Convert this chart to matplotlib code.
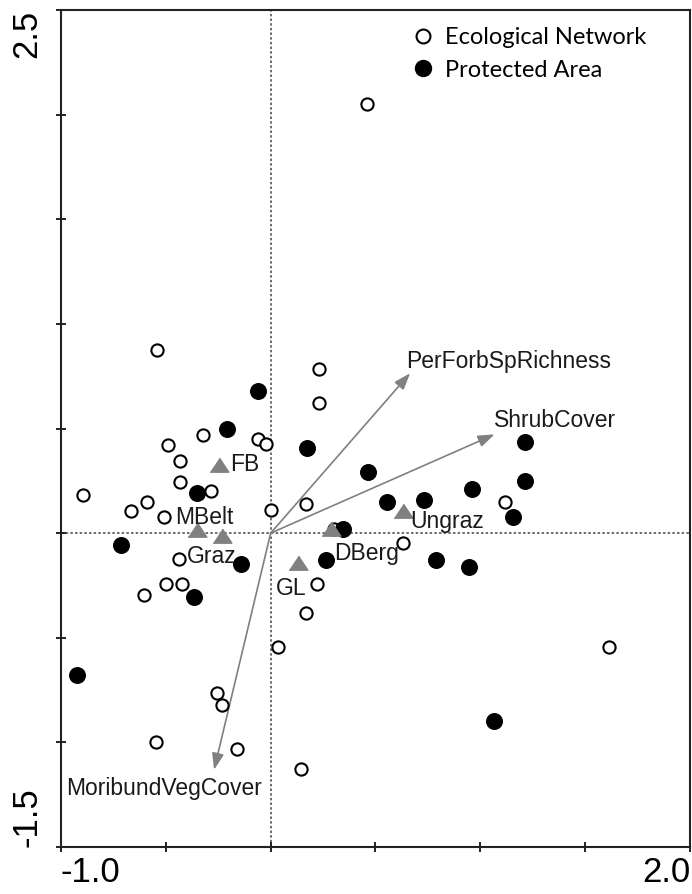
import numpy as np
import matplotlib
matplotlib.use("Agg")
import matplotlib.pyplot as plt
from matplotlib.lines import Line2D

# Site scores - Ecological Network (open circles)
eco_x = [0.459, -0.541, 0.231, 0.231, -0.488, -0.325, -0.059, -0.022, -0.432,
         -0.432, -0.285, -0.894, -0.591, -0.668, -0.507, 0.000, 0.167, 0.302,
         0.629, 1.118, -0.439, -0.499, -0.424, -0.603, 0.223, 0.167, 0.036,
         1.612, -0.255, -0.234, -0.548, -0.162, 0.145]
eco_y = [2.051, 0.876, 0.784, 0.624, 0.422, 0.468, 0.451, 0.425, 0.345,
         0.244, 0.202, 0.182, 0.150, 0.108, 0.075, 0.109, 0.139, 0.021,
         -0.049, 0.150, -0.124, -0.241, -0.244, -0.298, -0.243, -0.382, -0.542,
         -0.542, -0.764, -0.820, -0.999, -1.032, -1.128]

# Site scores - Protected Area (filled circles)
pa_x = [-0.062, -0.210, 0.172, -0.353, -0.714, -0.140, -0.366, 0.466, 0.556,
        0.729, 0.962, 1.213, 1.213, 1.154, 0.346, 0.262, 0.787, 0.944,
        1.067, -0.922]
pa_y = [0.677, 0.498, 0.406, 0.194, -0.059, -0.148, -0.303, 0.290, 0.150,
        0.156, 0.212, 0.434, 0.251, 0.076, 0.021, -0.128, -0.130, -0.163,
        -0.897, -0.677]

# Nominal variables (class centroids)
class_names = ["FB", "MBelt", "Graz", "Ungraz", "DBerg", "GL"]
class_x = [-0.246, -0.353, -0.234, 0.633, 0.288, 0.129]
class_y = [0.318, 0.005, -0.024, 0.096, 0.011, -0.153]

# Quantitative variables (biplot arrows)
var_names = ["PerForbSpRichness", "ShrubCover", "MoribundVegCover"]
var_x = [0.665, 1.068, -0.270]
var_y = [0.764, 0.472, -1.131]

x_ticks = [-1.0, -0.5, 0.0, 0.5, 1.0, 1.5, 2.0]
x_ticklabels = ["-1.0", "", "", "", "", "", "2.0"]
y_ticks = [-1.5, -1.0, -0.5, 0.0, 0.5, 1.0, 1.5, 2.0, 2.5]
y_ticklabels = ["-1.5", "", "", "", "", "", "", "", "2.5"]

legend_labels = ["Ecological Network", "Protected Area"]

# label offsets in pixels (dx, dy)
class_offsets = {"FB": (11, 2), "MBelt": (-22, 15), "Graz": (-35, -18),
                 "Ungraz": (7, -8), "DBerg": (3, -23), "GL": (-22, -23)}
var_offsets = {"PerForbSpRichness": (-4, 12), "ShrubCover": (-1, 14),
               "MoribundVegCover": (-148, -19)}

LABEL_FONT = "Liberation Sans"
GREY = "#808080"

fig = plt.figure(figsize=(6.92, 8.94), dpi=100)
ax = fig.add_axes([61 / 692, 47 / 894, 629 / 692, 837 / 894])

ax.set_xlim(-1.0, 2.0)
ax.set_ylim(-1.5, 2.5)

# reference lines through the origin
dots = dict(color="#555555", lw=1.2, ls=(0, (1.5, 1.3)), zorder=1)
ax.axhline(0, **dots)
ax.axvline(0, **dots)

# arrows for quantitative variables
for name, vx, vy in zip(var_names, var_x, var_y):
    ax.annotate("", xy=(vx, vy), xytext=(0, 0),
                arrowprops=dict(arrowstyle="-|>,head_length=0.5,head_width=0.18",
                                color=GREY, lw=1.2, shrinkA=0, shrinkB=0,
                                mutation_scale=20),
                zorder=2)
    ax.annotate(name, xy=(vx, vy), xytext=var_offsets[name],
                textcoords="offset pixels", ha="left", va="center",
                fontsize=16.5, family=LABEL_FONT, color="#1a1a1a", zorder=5)

# site points
ax.plot(eco_x, eco_y, ls="none", marker="o", ms=8.8, mfc="white",
        mec="black", mew=1.5, zorder=3)
ax.plot(pa_x, pa_y, ls="none", marker="o", ms=11.2, mfc="black",
        mec="black", mew=1.0, zorder=3)

# class centroids
tri = [(-1, -0.5), (1, -0.5), (0, 1.0)]
ax.plot(class_x, class_y, ls="none", marker=tri, ms=13.5, mfc=GREY, mec=GREY,
        zorder=4)
for name, cx, cy in zip(class_names, class_x, class_y):
    ax.annotate(name, xy=(cx, cy), xytext=class_offsets[name],
                textcoords="offset pixels", ha="left", va="center",
                fontsize=16.5, family=LABEL_FONT, color="#1a1a1a", zorder=5)

# axes styling
for side in ["left", "bottom", "top", "right"]:
    ax.spines[side].set_linewidth(1.5)
    ax.spines[side].set_color("#222222")

ax.set_xticks(x_ticks)
xl = ax.set_xticklabels(x_ticklabels, fontsize=25, family=LABEL_FONT)
xl[0].set_ha("left")
xl[-1].set_ha("right")

ax.set_yticks(y_ticks)
yl = ax.set_yticklabels(y_ticklabels, fontsize=25, family=LABEL_FONT,
                        rotation=90)
yl[0].set_va("bottom")
yl[-1].set_va("top")

ax.tick_params(direction="inout", length=7, width=1.4, color="#222222")
ax.tick_params(axis="x", pad=3)
ax.tick_params(axis="y", pad=9)

# legend
handles = [
    Line2D([], [], ls="none", marker="o", ms=10, mfc="white", mec="black",
           mew=1.5),
    Line2D([], [], ls="none", marker="o", ms=11.5, mfc="black", mec="black"),
]
ax.legend(handles, legend_labels, loc="upper left",
          bbox_to_anchor=(411 / 692, (894 - 27) / 894),
          bbox_transform=fig.transFigure, frameon=False,
          prop=dict(family="Lato", size=17), handlelength=1.0,
          handletextpad=0.44, labelspacing=0.49, borderpad=0,
          borderaxespad=0)

fig.savefig("out.png", dpi=100)
